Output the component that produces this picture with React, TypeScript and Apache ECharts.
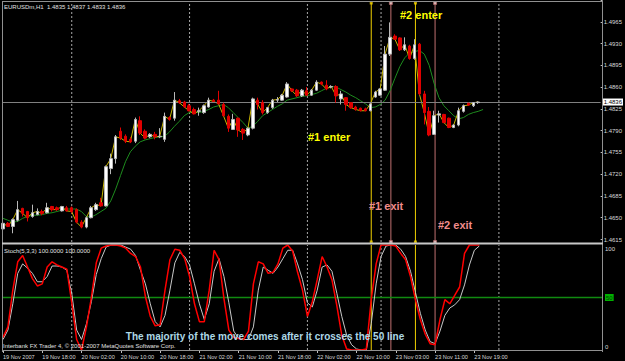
import React, { useEffect, useRef } from 'react';
import * as echarts from 'echarts';

// ---------- data ----------
const SYMBOL_TITLE = 'EURUSDm,H1  1.4835 1.4837 1.4833 1.4836';
const STOCH_TITLE = 'Stoch(5,3,3) 100.0000 100.0000';
const COPYRIGHT = 'Interbank FX Trader 4, \u00a9 2001-2007 MetaQuotes Software Corp.';
const NOTE = 'The majority of the move comes after it crosses the 50 line';

const BASE = 1.4615; // lowest price tick
const TICK_PIPS = 35; // 0.0035 between price ticks
const TOP_PIPS = 385;
const LAST_PRICE = 1.4836;

// hourly sessions: [day, first hour, last hour]
const SESSIONS: [number, number, number][] = [
  [19, 10, 23], [20, 0, 23], [21, 0, 23], [22, 0, 14], [23, 0, 23], [24, 0, 21],
];
const MONTH = 'Nov';
const FIRST_LABEL = '19 Nov 2007';
const LABEL_EVERY = 8;

const OPEN = [
  1.4632, 1.4641, 1.4636, 1.4646, 1.4665, 1.4660, 1.4652, 1.4655, 1.4660, 1.4658,
  1.4668, 1.4666, 1.4661, 1.4666, 1.4666, 1.4663, 1.4643, 1.4635, 1.4650, 1.4663,
  1.4674, 1.4669, 1.4729, 1.4745, 1.4789, 1.4781, 1.4776, 1.4773, 1.4806, 1.4789,
  1.4780, 1.4784, 1.4780, 1.4776, 1.4811, 1.4810, 1.4838, 1.4836, 1.4830, 1.4824,
  1.4821, 1.4819, 1.4828, 1.4839, 1.4839, 1.4832, 1.4813, 1.4792, 1.4810, 1.4792,
  1.4783, 1.4794, 1.4839, 1.4835, 1.4819, 1.4827, 1.4839, 1.4839, 1.4844, 1.4857,
  1.4855, 1.4846, 1.4854, 1.4847, 1.4855, 1.4868, 1.4863, 1.4860, 1.4861, 1.4841,
  1.4843, 1.4835, 1.4828, 1.4826, 1.4825, 1.4822, 1.4844, 1.4847, 1.4855, 1.4913,
  1.4942, 1.4939, 1.4920, 1.4926, 1.4906, 1.4929, 1.4849, 1.4821, 1.4784, 1.4815,
  1.4816, 1.4810, 1.4795, 1.4799, 1.4821, 1.4834, 1.4830, 1.4835,
];
const CLOSE = [
  1.4641, 1.4636, 1.4647, 1.4663, 1.4657, 1.4650, 1.4658, 1.4660, 1.4657, 1.4666,
  1.4663, 1.4663, 1.4668, 1.4661, 1.4660, 1.4643, 1.4635, 1.4650, 1.4666, 1.4671,
  1.4669, 1.4732, 1.4745, 1.4780, 1.4778, 1.4773, 1.4772, 1.4808, 1.4786, 1.4778,
  1.4784, 1.4780, 1.4781, 1.4813, 1.4808, 1.4839, 1.4835, 1.4828, 1.4822, 1.4817,
  1.4822, 1.4830, 1.4839, 1.4837, 1.4833, 1.4814, 1.4794, 1.4808, 1.4791, 1.4786,
  1.4794, 1.4841, 1.4832, 1.4819, 1.4827, 1.4839, 1.4840, 1.4847, 1.4865, 1.4854,
  1.4846, 1.4855, 1.4847, 1.4855, 1.4868, 1.4865, 1.4857, 1.4861, 1.4846, 1.4849,
  1.4832, 1.4827, 1.4824, 1.4822, 1.4822, 1.4833, 1.4852, 1.4857, 1.4913, 1.4940,
  1.4937, 1.4920, 1.4928, 1.4906, 1.4928, 1.4849, 1.4819, 1.4783, 1.4814, 1.4817,
  1.4803, 1.4795, 1.4799, 1.4822, 1.4830, 1.4831, 1.4835, 1.4836,
];
const LOW = [
  1.4628, 1.4635, 1.4625, 1.4644, 1.4652, 1.4644, 1.4650, 1.4654, 1.4654, 1.4657,
  1.4660, 1.4661, 1.4660, 1.4660, 1.4657, 1.4641, 1.4633, 1.4633, 1.4649, 1.4661,
  1.4668, 1.4668, 1.4720, 1.4737, 1.4775, 1.4770, 1.4770, 1.4770, 1.4783, 1.4776,
  1.4778, 1.4776, 1.4778, 1.4772, 1.4806, 1.4806, 1.4833, 1.4827, 1.4821, 1.4816,
  1.4814, 1.4817, 1.4827, 1.4836, 1.4832, 1.4813, 1.4788, 1.4791, 1.4780, 1.4775,
  1.4781, 1.4792, 1.4824, 1.4816, 1.4817, 1.4825, 1.4836, 1.4838, 1.4843, 1.4852,
  1.4844, 1.4844, 1.4846, 1.4846, 1.4854, 1.4863, 1.4855, 1.4858, 1.4835, 1.4832,
  1.4822, 1.4825, 1.4822, 1.4821, 1.4821, 1.4821, 1.4843, 1.4846, 1.4854, 1.4910,
  1.4936, 1.4918, 1.4918, 1.4904, 1.4904, 1.4847, 1.4800, 1.4781, 1.4783, 1.4803,
  1.4802, 1.4794, 1.4794, 1.4797, 1.4819, 1.4830, 1.4828, 1.4833,
];
const HIGH = [
  1.4644, 1.4643, 1.4649, 1.4677, 1.4666, 1.4661, 1.4671, 1.4665, 1.4663, 1.4674,
  1.4669, 1.4668, 1.4669, 1.4669, 1.4668, 1.4665, 1.4646, 1.4652, 1.4669, 1.4674,
  1.4682, 1.4734, 1.4753, 1.4783, 1.4795, 1.4784, 1.4780, 1.4811, 1.4813, 1.4792,
  1.4786, 1.4788, 1.4794, 1.4819, 1.4813, 1.4852, 1.4841, 1.4838, 1.4833, 1.4827,
  1.4827, 1.4832, 1.4843, 1.4841, 1.4854, 1.4835, 1.4816, 1.4817, 1.4811, 1.4794,
  1.4795, 1.4843, 1.4843, 1.4839, 1.4828, 1.4841, 1.4844, 1.4849, 1.4868, 1.4858,
  1.4857, 1.4857, 1.4860, 1.4857, 1.4871, 1.4869, 1.4871, 1.4863, 1.4863, 1.4854,
  1.4844, 1.4836, 1.4830, 1.4827, 1.4827, 1.4835, 1.4854, 1.4858, 1.4926, 1.4964,
  1.4945, 1.4940, 1.4940, 1.4928, 1.4937, 1.4931, 1.4854, 1.4828, 1.4822, 1.4822,
  1.4817, 1.4811, 1.4800, 1.4827, 1.4832, 1.4835, 1.4836, 1.4837,
];
// green moving average (shifted one bar forward)
const MA_GREEN = [
  1.4649, 1.4646, 1.4643, 1.4644, 1.4649, 1.4652, 1.4654, 1.4654, 1.4655, 1.4657,
  1.4658, 1.4660, 1.4662, 1.4664, 1.4664, 1.4664, 1.4660, 1.4652, 1.4651, 1.4655,
  1.4660, 1.4665, 1.4677, 1.4696, 1.4718, 1.4740, 1.4756, 1.4765, 1.4772, 1.4775,
  1.4777, 1.4779, 1.4780, 1.4781, 1.4788, 1.4797, 1.4805, 1.4814, 1.4819, 1.4820,
  1.4819, 1.4821, 1.4824, 1.4828, 1.4830, 1.4832, 1.4827, 1.4819, 1.4811, 1.4803,
  1.4794, 1.4797, 1.4805, 1.4814, 1.4819, 1.4824, 1.4829, 1.4833, 1.4839, 1.4841,
  1.4843, 1.4845, 1.4846, 1.4848, 1.4850, 1.4854, 1.4858, 1.4861, 1.4860, 1.4856,
  1.4852, 1.4847, 1.4843, 1.4838, 1.4833, 1.4827, 1.4828, 1.4832, 1.4839, 1.4854,
  1.4874, 1.4893, 1.4907, 1.4915, 1.4917, 1.4919, 1.4913, 1.4895, 1.4866, 1.4843,
  1.4830, 1.4822, 1.4814, 1.4809, 1.4811, 1.4816, 1.4819, 1.4821, 1.4824,
];
const STOCH_K = [
  12, 22, 57, 84, 90, 79, 68, 61, 63, 79,
  84, 81, 79, 77, 45, 10, 0, 22, 50, 83,
  97, 99, 100, 100, 99, 97, 92, 89, 79, 51,
  32, 23, 24, 57, 86, 96, 95, 87, 70, 44,
  27, 27, 57, 95, 86, 49, 19, 12, 11, 10,
  18, 63, 84, 82, 73, 74, 82, 97, 100, 94,
  74, 57, 32, 46, 67, 89, 79, 67, 42, 14,
  1, 0, 0, 0, 1, 48, 82, 100, 100, 100,
  99, 92, 86, 70, 48, 29, 15, 6, 5, 29,
  48, 44, 52, 60, 92, 100, 100, 100,
];
const STOCH_D = [
  10, 19, 44, 73, 82, 78, 73, 65, 65, 70,
  80, 80, 79, 76, 54, 19, 10, 25, 46, 72,
  87, 98, 100, 100, 100, 98, 96, 90, 76, 63,
  44, 27, 22, 33, 57, 83, 93, 89, 81, 63,
  44, 29, 44, 75, 87, 70, 45, 18, 11, 10,
  10, 22, 57, 79, 76, 73, 79, 87, 95, 95,
  82, 67, 45, 41, 57, 79, 81, 75, 54, 32,
  14, 5, 1, 0, 0, 25, 63, 89, 99, 100,
  100, 96, 89, 75, 55, 35, 19, 8, 6, 18,
  33, 40, 43, 48, 62, 81, 95, 99,
];
const STOCH_LEVEL = 50;
const ENTER_BARS = [75, 84];
const EXIT_BARS = [79, 88];
const ENTER_LABELS = ['#1 enter', '#2 enter'];
const EXIT_LABELS = ['#1 exit', '#2 exit'];

// ---------- derived ----------
const CATS: string[] = [];
SESSIONS.forEach(([d, h0, h1]) => {
  for (let h = h0; h <= h1; h++) CATS.push(`${d} ${MONTH} ${String(h).padStart(2, '0')}:00`);
});
const DAY_STARTS = CATS.map((c, i) => (c.endsWith(' 00:00') ? i : -1)).filter((i) => i >= 0);

const toPips = (p: number) => Math.round((p - BASE) * 100000) / 10;

const FONT = 'Liberation Sans, Arial, sans-serif';
const YELLOW = '#f0d000';
const EXIT_LINE = '#c07070';
const EXIT_TEXT = '#f08c8c';
const SEP = '#a8a8a8';
const FRAME = '#909090';
const LEVEL_GREEN = '#108a10';

const isLabelIdx = (i: number) => i % LABEL_EVERY === 0 && i < OPEN.length;

// vertical segments (bottom->top of an overlay grid) drawn as a broken line series
function verticalSeries(name: string, axisIndex: number, bars: number[], color: string, dashed = false) {
  const data: any[] = [];
  bars.forEach((i, k) => {
    if (k > 0) data.push('-');
    data.push([i, 0]);
    data.push([i, 1]);
  });
  return {
    name,
    type: 'line',
    xAxisIndex: axisIndex,
    yAxisIndex: axisIndex,
    data,
    symbol: 'none',
    connectNulls: false,
    silent: true,
    clip: false,
    z: 1,
    lineStyle: { color, width: 1, type: dashed ? [2, 2] : 'solid' },
  };
}

function squareSeries(name: string, bars: number[], fill: string, border: string) {
  const data: any[] = [];
  bars.forEach((i) => {
    data.push([i, 1]);
    data.push([i, 0]);
  });
  return {
    name,
    type: 'scatter',
    xAxisIndex: 2,
    yAxisIndex: 2,
    symbol: 'rect',
    symbolSize: 3,
    silent: true,
    z: 2,
    clip: false,
    itemStyle: { color: fill, borderColor: border, borderWidth: fill === border ? 0 : 0.8 },
    data,
  };
}

function buildOption(): any {
  const hiddenX = (gridIndex: number) => ({
    type: 'category',
    gridIndex,
    data: CATS,
    boundaryGap: false,
    axisLine: { show: false },
    axisTick: { show: false },
    axisLabel: { show: false },
    splitLine: { show: false },
  });

  const txt = (x: number, y: number, text: string, fill: string, font: string, align = 'left') => ({
    type: 'text',
    x,
    y,
    silent: true,
    z: 50,
    style: { text, fill, font, align, verticalAlign: 'middle' },
  });
  const ln = (x1: number, y1: number, x2: number, y2: number, stroke: string, lineWidth = 1) => ({
    type: 'line',
    silent: true,
    z: 40,
    shape: { x1, y1, x2, y2 },
    style: { stroke, lineWidth },
  });

  return {
    animation: false,
    backgroundColor: '#000000',
    textStyle: { fontFamily: FONT },
    grid: [
      { left: 3, right: 23, top: 361 - 121.5 - (TOP_PIPS / TICK_PIPS) * 22.22, bottom: 121.5 },
      { left: 3, right: 23, top: 245, bottom: 11 },
      { left: 3, right: 23, top: 3, bottom: 119 },
      { left: 3, right: 23, top: 245, bottom: 11 },
    ],
    xAxis: [
      hiddenX(0),
      {
        type: 'category',
        gridIndex: 1,
        data: CATS,
        boundaryGap: false,
        axisLine: { show: false },
        splitLine: { show: false },
        axisTick: {
          show: true,
          interval: (i: number) => isLabelIdx(i),
          length: 3,
          lineStyle: { color: '#c0c0c0' },
        },
        axisLabel: {
          show: true,
          interval: (i: number) => isLabelIdx(i),
          formatter: (v: string, i: number) => (i === 0 ? FIRST_LABEL : v),
          color: '#d8d8d8',
          fontSize: 5.6,
          fontFamily: FONT,
          align: 'left',
          margin: 4,
        },
      },
      hiddenX(2),
      hiddenX(3),
    ],
    yAxis: [
      {
        type: 'value',
        gridIndex: 0,
        position: 'right',
        min: 0,
        max: TOP_PIPS,
        interval: TICK_PIPS,
        splitLine: { show: false },
        axisLine: { show: false },
        axisTick: { show: true, length: 2, lineStyle: { color: '#c0c0c0' } },
        axisLabel: {
          color: '#d8d8d8',
          fontSize: 6,
          fontFamily: FONT,
          margin: 3,
          formatter: (v: number) => (v > TOP_PIPS - TICK_PIPS / 2 ? '' : (BASE + v / 10000).toFixed(4)),
        },
      },
      {
        type: 'value',
        gridIndex: 1,
        position: 'right',
        min: 0,
        max: 100,
        interval: 50,
        splitLine: { show: false },
        axisLine: { show: false },
        axisTick: { show: false },
        axisLabel: {
          margin: 3,
          fontSize: 6,
          fontFamily: FONT,
          color: '#d8d8d8',
          formatter: (v: number) => (v === 100 ? '{t|100}' : v === 50 ? '{g|50}' : '{b|0}'),
          rich: {
            t: { fontSize: 6, color: '#d8d8d8', padding: [8, 0, 0, 0] },
            b: { fontSize: 6, color: '#d8d8d8', padding: [0, 0, 6, 0] },
            g: { fontSize: 6, color: '#004000', backgroundColor: '#00b000', padding: [1, 1, 0, 1] },
          },
        },
      },
      { type: 'value', gridIndex: 2, min: 0, max: 1, show: false },
      { type: 'value', gridIndex: 3, min: 0, max: 1, show: false },
    ],
    series: [
      // day separators
      verticalSeries('daysMain', 2, DAY_STARTS, SEP, true),
      verticalSeries('daysInd', 3, DAY_STARTS, SEP, true),
      // entry / exit vertical objects
      verticalSeries('enterMain', 2, ENTER_BARS, YELLOW),
      verticalSeries('exitMain', 2, EXIT_BARS, EXIT_LINE),
      verticalSeries('enterInd', 3, ENTER_BARS, YELLOW),
      verticalSeries('exitInd', 3, EXIT_BARS, EXIT_LINE),
      squareSeries('enterSq', ENTER_BARS, YELLOW, YELLOW),
      squareSeries('exitSq', EXIT_BARS, '#f6d6d6', EXIT_LINE),
      {
        name: 'level50',
        type: 'line',
        xAxisIndex: 1,
        yAxisIndex: 1,
        data: [[0, STOCH_LEVEL], [CATS.length - 1, STOCH_LEVEL]],
        symbol: 'none',
        silent: true,
        z: 2,
        lineStyle: { color: LEVEL_GREEN, width: 1.3 },
      },
      {
        name: 'MA',
        type: 'line',
        xAxisIndex: 0,
        yAxisIndex: 0,
        data: MA_GREEN.map(toPips),
        symbol: 'none',
        z: 3,
        clip: false,
        lineStyle: { color: '#1e8c1e', width: 1 },
      },
      {
        name: 'Close',
        type: 'line',
        xAxisIndex: 0,
        yAxisIndex: 0,
        data: CLOSE.map(toPips),
        symbol: 'none',
        z: 4,
        clip: false,
        lineStyle: { color: '#c8b400', width: 1 },
      },
      {
        name: 'EURUSD',
        type: 'candlestick',
        xAxisIndex: 0,
        yAxisIndex: 0,
        z: 5,
        clip: false,
        barWidth: 3,
        data: OPEN.map((o, i) => [toPips(o), toPips(CLOSE[i]), toPips(LOW[i]), toPips(HIGH[i])]),
        itemStyle: {
          color: '#ffffff',
          color0: '#e00000',
          borderColor: '#b8b8b8',
          borderColor0: '#e00000',
          borderWidth: 1,
        },
        markLine: {
          silent: true,
          symbol: 'none',
          lineStyle: { color: '#808080', width: 1, type: 'solid' },
          label: {
            show: true,
            position: 'end',
            distance: 2,
            formatter: LAST_PRICE.toFixed(4),
            color: '#000000',
            backgroundColor: '#ffffff',
            fontSize: 6,
            fontFamily: FONT,
            padding: [1, 1, 0, 1],
          },
          data: [{ yAxis: toPips(LAST_PRICE) }],
        },
      },
      {
        name: 'Signal',
        type: 'line',
        xAxisIndex: 1,
        yAxisIndex: 1,
        data: STOCH_D,
        symbol: 'none',
        z: 6,
        lineStyle: { color: '#c8c8c8', width: 1 },
      },
      {
        name: 'Main',
        type: 'line',
        xAxisIndex: 1,
        yAxisIndex: 1,
        data: STOCH_K,
        symbol: 'none',
        z: 7,
        lineStyle: { color: '#ff0000', width: 1.5 },
      },
    ],
    graphic: [
      ln(2, 1.5, 602, 1.5, FRAME),
      ln(2.5, 1, 2.5, 352, FRAME),
      ln(602.5, 1, 602.5, 352, FRAME),
      ln(2, 243.5, 603, 243.5, '#c8c8c8', 2),
      ln(2, 350.5, 603, 350.5, FRAME),
      txt(4, 7, SYMBOL_TITLE, '#e0e0e0', `6px ${FONT}`),
      txt(4, 251, STOCH_TITLE, '#e0e0e0', `6px ${FONT}`),
      txt(3, 346, COPYRIGHT, '#e0e0e0', `6px ${FONT}`),
      txt(265, 336, NOTE, '#add8e6', `bold 10px ${FONT}`, 'center'),
      txt(400, 15, ENTER_LABELS[1], '#ffff00', `bold 11px ${FONT}`),
      txt(308, 137, ENTER_LABELS[0], '#ffff00', `bold 11px ${FONT}`),
      txt(369, 206, EXIT_LABELS[0], EXIT_TEXT, `bold 11px ${FONT}`),
      txt(438, 225, EXIT_LABELS[1], EXIT_TEXT, `bold 11px ${FONT}`),
    ],
  };
}

export default function App() {
  const ref = useRef<HTMLDivElement>(null);
  useEffect(() => {
    if (!ref.current) return;
    const chart = echarts.init(ref.current, undefined, { renderer: 'svg' });
    chart.setOption(buildOption());
    return () => chart.dispose();
  }, []);
  return (
    <div
      ref={ref}
      style={{ position: 'absolute', left: 0, top: 0, width: 625, height: 361, background: '#000' }}
    />
  );
}
